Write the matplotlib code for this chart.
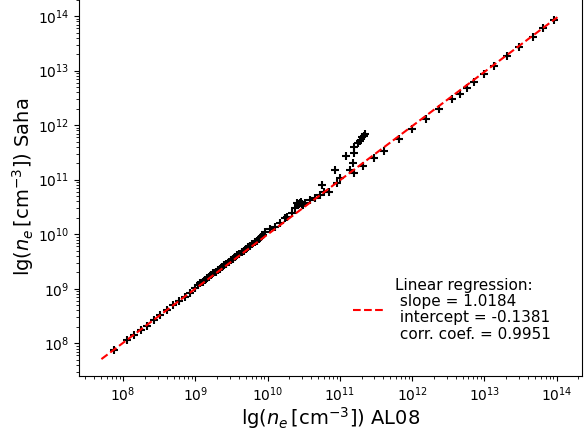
import numpy as np
import matplotlib
matplotlib.use("Agg")
import matplotlib.pyplot as plt

# log10 electron densities (AL08 vs Saha)
ne_al08_log = [
    7.875, 8.051, 8.152, 8.253, 8.328, 8.429, 8.512, 8.605, 8.696, 8.779,
    8.862, 8.927, 8.997, 9.042,
    9.07, 9.10, 9.13, 9.16, 9.19, 9.22, 9.25, 9.28, 9.31, 9.34,
    9.37, 9.40, 9.43, 9.46, 9.49, 9.52, 9.55, 9.58, 9.61, 9.64,
    9.67, 9.70, 9.73, 9.76, 9.79, 9.82, 9.85, 9.88, 9.91, 9.94,
    9.966, 10.035, 10.105, 10.174, 10.243, 10.267, 10.336, 10.382,
    10.409, 10.423, 10.437, 10.465, 10.492, 10.415, 10.450, 10.478,
    10.520, 10.589, 10.659, 10.728, 10.774, 10.843, 10.752, 10.959,
    11.005, 10.936, 11.144, 11.189, 11.181, 11.088, 11.189, 11.199,
    11.245, 11.272, 11.306, 11.351, 11.330,
    11.319, 11.466, 11.614, 11.812, 11.998, 12.192, 12.366, 12.552,
    12.657, 12.760, 12.861, 12.990, 13.128, 13.314, 13.484, 13.674,
    13.812, 13.959,
]
ne_saha_log = [
    7.885, 8.060, 8.152, 8.244, 8.317, 8.427, 8.519, 8.610, 8.702, 8.781,
    8.854, 8.928, 9.008, 9.069,
    9.10, 9.13, 9.16, 9.19, 9.22, 9.25, 9.28, 9.31, 9.34, 9.37,
    9.40, 9.43, 9.46, 9.49, 9.52, 9.55, 9.58, 9.61, 9.64, 9.67,
    9.70, 9.73, 9.76, 9.79, 9.82, 9.85, 9.88, 9.91, 9.94, 9.98,
    10.046, 10.090, 10.137, 10.200, 10.291, 10.321, 10.383, 10.475,
    10.572, 10.535, 10.554, 10.590, 10.535, 10.560, 10.575, 10.550,
    10.566, 10.627, 10.658, 10.719, 10.779, 10.779, 10.902, 10.933,
    11.025, 11.177, 11.177, 11.116, 11.300, 11.434, 11.483, 11.604,
    11.666, 11.714, 11.787, 11.837, 11.810,
    11.256, 11.391, 11.531, 11.740, 11.923, 12.106, 12.301, 12.473,
    12.570, 12.675, 12.796, 12.931, 13.083, 13.272, 13.437, 13.621,
    13.775, 13.927,
]

# regression line end points (log10) and legend numbers
fit_x_log = [7.70, 14.01]
fit_y_log = [7.71, 13.98]
slope, intercept, corr = 1.0184, -0.1381, 0.9951

x = 10 ** np.array(ne_al08_log)
y = 10 ** np.array(ne_saha_log)

fig = plt.figure(figsize=(5.88, 4.33), dpi=100)
ax = fig.add_axes([79 / 588, 57 / 433, 503 / 588, 379 / 433])

ax.scatter(x, y, marker="+", color="black", zorder=2)
ax.plot(10 ** np.array(fit_x_log), 10 ** np.array(fit_y_log), "r--", linewidth=1.5,
        zorder=3,
        label=f"Linear regression:\n slope = {slope:.4f}\n intercept = {intercept:.4f}"
              f"\n corr. coef. = {corr:.4f}")

ax.set_xscale("log")
ax.set_yscale("log")
ax.set_xlim(10 ** 7.39, 10 ** 14.35)
ax.set_ylim(10 ** 7.40, 10 ** 14.35)

ax.set_xlabel(r"lg($n_e\,[\mathrm{cm}^{-3}]$) AL08", fontsize=14, labelpad=0.5)
ax.set_ylabel(r"lg($n_e\,[\mathrm{cm}^{-3}]$) Saha", fontsize=14, labelpad=1)

leg = ax.legend(loc="lower right", bbox_to_anchor=(0.951, 0.074), borderaxespad=0,
                frameon=False, fontsize=11)
for t in leg.get_texts():
    t.set_linespacing(1.12)

fig.savefig("out.png", dpi=100)
